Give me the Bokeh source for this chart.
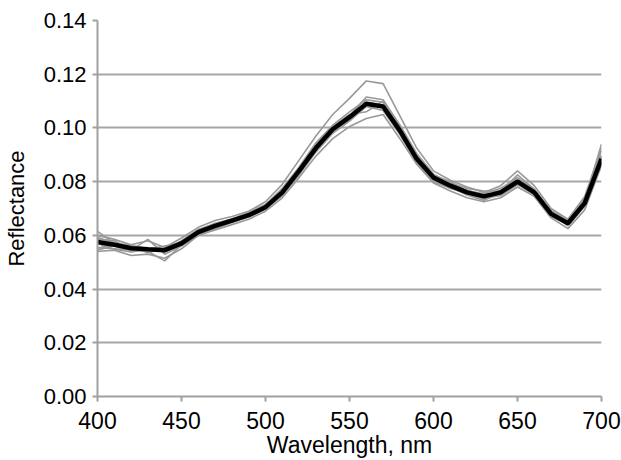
from bokeh.plotting import figure
from bokeh.models import FixedTicker, NumeralTickFormatter, Range1d
from bokeh.embed import file_html
from bokeh.resources import INLINE

wavelength = [400, 410, 420, 430, 440, 450, 460, 470, 480, 490, 500, 510, 520, 530, 540, 550,
              560, 570, 580, 590, 600, 610, 620, 630, 640, 650, 660, 670, 680, 690, 700]

mean_spectrum = [.0575, .0565, .0552, .0548, .0545, .0570, .0612, .0635, .0655, .0675, .0705, .0760,
                 .0840, .0925, .0995, .1040, .1090, .1080, .0990, .0885, .0815, .0785, .0760, .0745,
                 .0760, .0800, .0760, .0680, .0645, .0720, .0885]

sample_1 = [.0600, .0585, .0565, .0580, .0555, .0590, .0630, .0655, .0670, .0690, .0725, .0790, .0880,
            .0970, .1050, .1110, .1175, .1165, .1045, .0925, .0840, .0805, .0780, .0760, .0785, .0840,
            .0785, .0700, .0660, .0745, .0925]
sample_2 = [.0540, .0545, .0525, .0530, .0515, .0550, .0600, .0620, .0640, .0660, .0690, .0740, .0815,
            .0895, .0960, .1005, .1035, .1050, .0960, .0865, .0795, .0765, .0740, .0725, .0740, .0780,
            .0745, .0665, .0625, .0695, .0860]
sample_3 = [.0615, .0570, .0560, .0545, .0540, .0580, .0620, .0645, .0660, .0685, .0715, .0775, .0855,
            .0945, .1010, .1060, .1105, .1095, .1000, .0895, .0825, .0800, .0765, .0755, .0775, .0815,
            .0770, .0690, .0650, .0730, .0895]
sample_4 = [.0555, .0550, .0545, .0585, .0530, .0560, .0600, .0625, .0648, .0668, .0698, .0748, .0825,
            .0910, .0980, .1025, .1080, .1065, .0975, .0870, .0800, .0775, .0755, .0735, .0750, .0790,
            .0750, .0670, .0640, .0710, .0875]
sample_5 = [.0585, .0580, .0545, .0540, .0505, .0565, .0610, .0638, .0658, .0678, .0708, .0770, .0850,
            .0940, .1005, .1050, .1060, .1100, .1010, .0900, .0818, .0795, .0775, .0765, .0765, .0805,
            .0765, .0680, .0645, .0720, .0890]
sample_6 = [.0545, .0562, .0558, .0535, .0552, .0578, .0622, .0642, .0662, .0682, .0712, .0765, .0835,
            .0915, .0985, .1030, .1095, .1085, .0985, .0875, .0812, .0780, .0750, .0730, .0762, .0825,
            .0772, .0692, .0655, .0735, .0915]
sample_7 = [.0570, .0548, .0538, .0548, .0560, .0572, .0615, .0635, .0655, .0675, .0705, .0762, .0842,
            .0930, .1000, .1045, .1115, .1105, .1010, .0905, .0828, .0792, .0768, .0752, .0758, .0795,
            .0755, .0675, .0638, .0712, .0868]
sample_8 = [.0592, .0572, .0562, .0552, .0538, .0562, .0605, .0630, .0650, .0670, .0700, .0755, .0835,
            .0920, .0990, .1045, .1085, .1075, .0985, .0880, .0810, .0775, .0762, .0748, .0748, .0788,
            .0762, .0682, .0635, .0708, .0898]
sample_9 = [.0552, .0568, .0550, .0552, .0545, .0572, .0612, .0636, .0656, .0676, .0706, .0762, .0848,
            .0932, .1002, .1040, .1090, .1082, .0992, .0888, .0818, .0792, .0765, .0740, .0768, .0808,
            .0768, .0688, .0652, .0728, .0940]

samples = [sample_1, sample_2, sample_3, sample_4, sample_5, sample_6, sample_7, sample_8, sample_9]

x_ticks = [400, 450, 500, 550, 600, 650, 700]
y_ticks = [0.00, 0.02, 0.04, 0.06, 0.08, 0.10, 0.12, 0.14]

FONT = "Liberation Sans"

p = figure(width=621, height=460, output_backend="svg", toolbar_location=None,
           x_range=Range1d(400, 700), y_range=Range1d(0, 0.14),
           min_border_left=97, min_border_right=20, min_border_top=20, min_border_bottom=62)
p.outline_line_color = None
p.background_fill_color = "white"
p.border_fill_color = "white"

for s in samples:
    p.line(wavelength, s, line_color="#999999", line_width=1.6)
p.line(wavelength, mean_spectrum, line_color="black", line_width=4.5)

p.xgrid.visible = False
p.ygrid.ticker = FixedTicker(ticks=y_ticks)
p.ygrid.grid_line_color = "#a6a6a6"
p.ygrid.grid_line_width = 2

for ax in (p.xaxis[0], p.yaxis[0]):
    ax.axis_line_color = "#a0a0a0"
    ax.axis_line_width = 2
    ax.major_tick_line_color = "#a0a0a0"
    ax.major_tick_line_width = 2
    ax.major_tick_out = 5
    ax.major_tick_in = 0
    ax.minor_tick_line_color = None
    ax.major_label_text_font = FONT
    ax.major_label_text_color = "black"
    ax.axis_label_text_font = FONT
    ax.axis_label_text_font_style = "normal"
    ax.axis_label_text_color = "black"

p.xaxis.major_label_text_font_size = "23px"
p.yaxis.major_label_text_font_size = "22px"
p.xaxis.axis_label_text_font_size = "23px"
p.yaxis.axis_label_text_font_size = "22px"

p.xaxis.ticker = FixedTicker(ticks=x_ticks)
p.yaxis.ticker = FixedTicker(ticks=y_ticks)
p.yaxis.formatter = NumeralTickFormatter(format="0.00")
p.xaxis.axis_label = "Wavelength, nm"
p.yaxis.axis_label = "Reflectance"
p.xaxis.major_label_standoff = 10
p.yaxis.major_label_standoff = 6
p.xaxis.axis_label_standoff = 0
p.yaxis.axis_label_standoff = 12

open("out.html", "w").write(file_html(p, INLINE))
